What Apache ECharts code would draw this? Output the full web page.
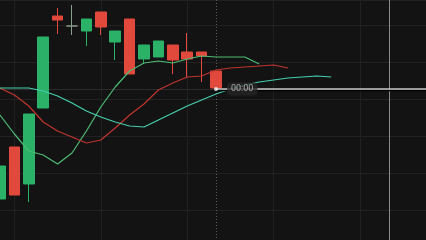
<!DOCTYPE html>
<html>
<head>
<meta charset="utf-8">
<script src="https://cdn.jsdelivr.net/npm/echarts@6/dist/echarts.min.js"></script>
<style>
html,body{margin:0;padding:0;background:#131313;overflow:hidden;}
#chart{width:426px;height:240px;}
</style>
</head>
<body>
<div id="chart"></div>
<script>
// Categories (time slots)
const categories = ['t01','t02','t03','t04','t05','t06','t07','t08','t09','t10','t11','t12','t13','t14','t15','t16','t17','t18','t19','t20','t21','t22','t23','t24','t25','t26','t27','t28','t29','t30','t31'];
// Candles: [open, close, low, high]
const candles = [
  [48, 81, 48, 81],
  [100, 52, 52, 100],
  [63, 133, 45, 133],
  [139, 210, 139, 210],
  [231, 227, 213, 239],
  [221, 221, 212, 242],
  [216, 228, 201, 228],
  [235, 220, 212, 235],
  [205, 216, 187, 216],
  [228, 173, 173, 228],
  [188, 202, 183, 202],
  [190, 206, 190, 206],
  [202, 187, 173, 202],
  [195, 188, 169, 214],
  [195, 191, 165, 195],
  [176, 159, 158, 176]
];
// Moving average lines
const maFast = [132,113,96,92,83,94,116,140,160,176,184,186,184,188,191,190,190,190,183];
const maMid = [159,152,141,125,116,110,104,107,119,132,143,157,164,170,171,177,179,180,181,182,179];
const maSlow = [159,159,159,156,151,144,136,130,125,121,120,127,134,141,147,153,158,162,165,167,169,170,171,170];
// Crosshair
const crossIndex = 15;
const crossValue = 158;
const crossLabel = '00:00';
const markerIndex = 27;
const lastIndex = 30;

const chart = echarts.init(document.getElementById('chart'), null, {renderer: 'canvas'});
const lineCommon = {type: 'line', showSymbol: false, symbol: 'none', smooth: false, silent: true, z: 3};
chart.setOption({
  backgroundColor: '#131313',
  animation: false,
  grid: {left: 0, top: 0, width: 432, height: 247, outerBoundsMode: 'none', containLabel: false},
  xAxis: {
    type: 'category', data: categories, boundaryGap: false,
    axisLine: {show: false}, axisTick: {show: false}, axisLabel: {show: false},
    splitLine: {show: true, interval: (i) => i % 6 === 1, lineStyle: {color: '#212121', width: 1}}
  },
  yAxis: {
    type: 'value', min: 0, max: 247, interval: 37,
    axisLine: {show: false}, axisTick: {show: false}, axisLabel: {show: false},
    splitLine: {show: true, lineStyle: {color: '#212121', width: 1}}
  },
  series: [
    {
      type: 'line', data: [], silent: true, z: 1,
      markLine: {
        z: 1, silent: true, symbol: 'none', label: {show: false},
        data: [
          {yAxis: crossValue, lineStyle: {color: '#2c2c2c', width: 1, type: 'solid'}},
          {xAxis: crossIndex, lineStyle: {color: '#5a5a5a', width: 1, type: [1, 2]}},
          {xAxis: markerIndex, lineStyle: {color: '#8a8a8a', width: 1, type: 'solid'}}
        ]
      }
    },
    {
      type: 'candlestick', data: candles, barWidth: 11, z: 2,
      itemStyle: {
        color: '#2bb168', color0: '#e0493b',
        borderColor: '#2bb168', borderColor0: '#e0493b',
        borderColorDoji: '#8a9f8c', borderWidth: 1
      }
    },
    Object.assign({}, lineCommon, {data: maFast, lineStyle: {color: '#4dbb75', width: 1.2}}),
    Object.assign({}, lineCommon, {data: maMid, lineStyle: {color: '#c0352f', width: 1.2}}),
    Object.assign({}, lineCommon, {data: maSlow, lineStyle: {color: '#45cfae', width: 1.2}}),
    {
      type: 'scatter', silent: true, z: 5,
      data: [[crossIndex, crossValue]],
      symbolSize: 4, itemStyle: {color: '#ffffff'},
      label: {
        show: true, position: 'right', distance: 9, formatter: crossLabel,
        color: '#c4c4c4', fontSize: 9, fontFamily: 'Roboto, sans-serif',
        backgroundColor: '#262626', padding: [2, 4, 2, 4], borderRadius: 4
      },
      markLine: {
        silent: true, symbol: 'none', label: {show: false},
        data: [
          [{coord: [crossIndex, crossValue], lineStyle: {color: '#c9c9c9', width: 1.6, type: 'solid', shadowColor: '#000', shadowOffsetY: 1.5, shadowBlur: 0}}, {coord: [lastIndex, crossValue]}]
        ]
      }
    }
  ]
});
</script>
</body>
</html>
